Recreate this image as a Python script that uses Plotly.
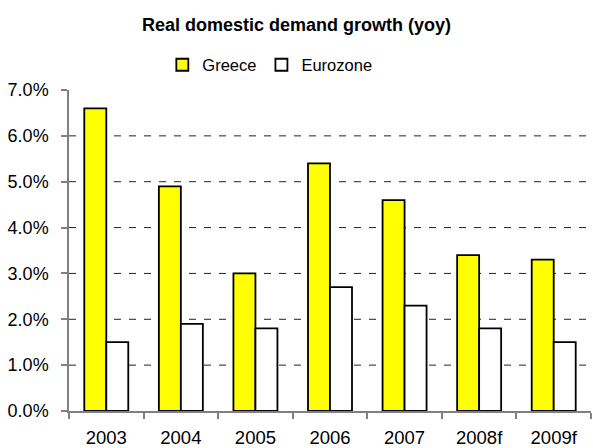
import plotly.graph_objects as go

years = ["2003", "2004", "2005", "2006", "2007", "2008f", "2009f"]
greece = [6.6, 4.9, 3.0, 5.4, 4.6, 3.4, 3.3]
eurozone = [1.5, 1.9, 1.8, 2.7, 2.3, 1.8, 1.5]
y_ticks = [0, 1, 2, 3, 4, 5, 6, 7]
y_tick_labels = ["0.0%", "1.0%", "2.0%", "3.0%", "4.0%", "5.0%", "6.0%", "7.0%"]
grid_values = [1, 2, 3, 4, 5, 6]

FONT = "Liberation Sans, Arial, sans-serif"

fig = go.Figure()
fig.add_trace(go.Bar(name="Greece", x=years, y=greece,
                     marker=dict(color="#FFFF00", line=dict(color="#000000", width=1.8))))
fig.add_trace(go.Bar(name="Eurozone", x=years, y=eurozone,
                     marker=dict(color="#FFFFFF", line=dict(color="#000000", width=1.8))))

shapes = [dict(type="line", xref="paper", yref="y", x0=0, x1=1, y0=v, y1=v,
               line=dict(color="#222222", width=1, dash="7px,8px"), layer="below")
          for v in grid_values]

fig.update_layout(
    width=593, height=448,
    margin=dict(l=69, r=2, t=90, b=37),
    paper_bgcolor="white", plot_bgcolor="white",
    font=dict(family=FONT, size=18, color="#000000"),
    barmode="group", bargap=0.41, bargroupgap=0,
    title=dict(text="<b>Real domestic demand growth (yoy)</b>", x=0.5, xanchor="center",
               y=1 - 25 / 448, yanchor="middle", xref="container", yref="container",
               font=dict(size=18, family=FONT, color="#000000")),
    legend=dict(orientation="h", xref="container", yref="container",
                x=0.455, xanchor="center", y=1 - 65 / 448, yanchor="middle",
                font=dict(size=16.5, family=FONT), itemwidth=30, tracegroupgap=0,
                bgcolor="rgba(0,0,0,0)"),
    shapes=shapes,
    hovermode=False,
)
fig.update_xaxes(showline=True, linecolor="#808080", linewidth=1.5, automargin=False,
                 ticks="outside", tickson="boundaries", ticklen=6, tickcolor="#808080",
                 tickwidth=1.5, tickfont=dict(size=18.5), ticklabelstandoff=9,
                 showgrid=False)
fig.update_yaxes(range=[0, 7], tickvals=y_ticks, ticktext=y_tick_labels, automargin=False,
                 showline=True, linecolor="#808080", linewidth=1.5,
                 ticks="outside", ticklen=6, tickcolor="#808080", tickwidth=1.5,
                 ticklabelstandoff=9,
                 showgrid=False, zeroline=False, tickfont=dict(size=18))

fig.write_html("out.html")
